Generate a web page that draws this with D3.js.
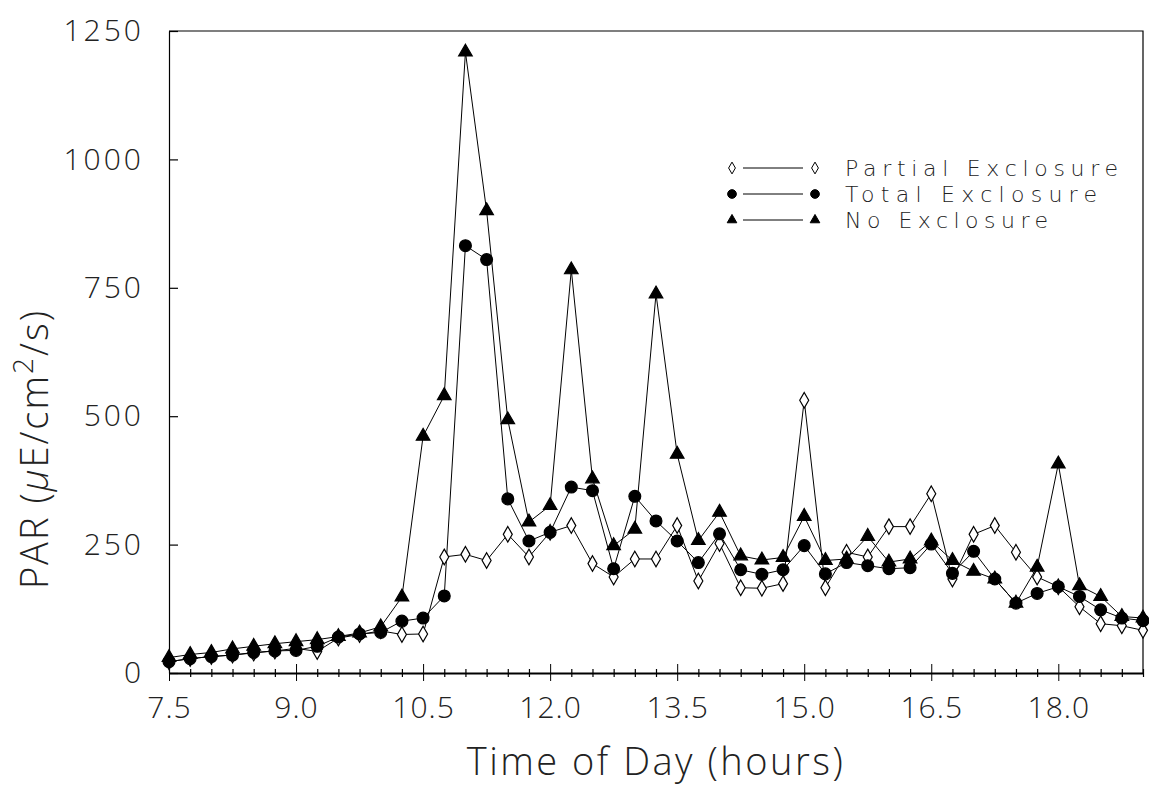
<!DOCTYPE html>
<html>
<head>
<meta charset="utf-8">
<script src="https://cdnjs.cloudflare.com/ajax/libs/d3/7.8.5/d3.min.js"></script>
<style>
  body { margin: 0; background: #fff; }
  svg text { font-family: "Open Sans", "DejaVu Sans", sans-serif; font-weight: 300; fill: #222; }
  .axis path, .axis line { stroke: #000; }
</style>
</head>
<body>
<svg class="js-chart"></svg>
<script>
// sample times (hours), every quarter hour
const hours = [7.5, 7.75, 8.0, 8.25, 8.5, 8.75, 9.0, 9.25, 9.5, 9.75,
  10.0, 10.25, 10.5, 10.75, 11.0, 11.25, 11.5, 11.75, 12.0, 12.25,
  12.5, 12.75, 13.0, 13.25, 13.5, 13.75, 14.0, 14.25, 14.5, 14.75,
  15.0, 15.25, 15.5, 15.75, 16.0, 16.25, 16.5, 16.75, 17.0, 17.25,
  17.5, 17.75, 18.0, 18.25, 18.5, 18.75, 19.0];

const partial = [22, 28, 32, 35, 39, 43, 48, 42, 68, 75,
  82, 75, 76, 226, 231, 219, 270, 226, 274, 287,
  213, 187, 222, 222, 287, 179, 252, 166, 165, 174,
  531, 166, 235, 226, 285, 285, 349, 183, 270, 287,
  235, 187, 168, 129, 96, 92, 83];

const total = [22, 28, 32, 35, 40, 43, 44, 52, 70, 76,
  79, 101, 107, 150, 832, 805, 339, 257, 274, 362,
  355, 203, 344, 296, 257, 215, 271, 201, 192, 201,
  248, 193, 215, 209, 203, 205, 251, 194, 237, 183,
  136, 155, 168, 149, 123, 107, 102];

const noExcl = [30, 36, 40, 47, 52, 57, 61, 65, 71, 78,
  90, 148, 461, 540, 1209, 900, 493, 294, 326, 785,
  378, 248, 280, 738, 426, 258, 313, 228, 220, 225,
  305, 219, 222, 266, 216, 222, 257, 219, 198, 183,
  136, 206, 407, 170, 149, 110, 107];

const xMajor = [7.5, 9.0, 10.5, 12.0, 13.5, 15.0, 16.5, 18.0];
const yTicks = [0, 250, 500, 750, 1000, 1250];
const seriesNames = ['Partial Exclosure', 'Total  Exclosure', 'No Exclosure'];

const svgWidth = 1149;
const svgHeight = 789;
const margin = {top: 31, right: 6, bottom: 116, left: 169};
const width = svgWidth - margin.left - margin.right;
const height = svgHeight - margin.top - margin.bottom;

const x = d3.scaleLinear().domain([7.5, 19.0]).range([0, width]);
const y = d3.scaleLinear().domain([0, 1250]).range([height, 0]);

const svg = d3.select('.js-chart')
  .attr('width', svgWidth)
  .attr('height', svgHeight)
  .append('g')
  .attr('transform', `translate(${margin.left},${margin.top})`);

// frame: top and right edges
svg.append('path')
  .attr('d', `M0,0H${width}V${height}`)
  .attr('fill', 'none')
  .attr('stroke', '#000')
  .attr('stroke-width', 1.2);

// x axis: minor ticks every 0.25 h, majors every 1.5 h
const minorTicks = hours.filter(h => !xMajor.includes(h));
const xMinor = svg.append('g')
  .attr('class', 'axis')
  .attr('transform', `translate(0,${height})`)
  .call(d3.axisBottom(x).tickValues(minorTicks).tickSize(4).tickFormat(''));
xMinor.selectAll('.tick line').attr('y1', -4).attr('stroke-width', 1.2);
xMinor.select('.domain').remove();

const xAxis = svg.append('g')
  .attr('class', 'axis')
  .attr('transform', `translate(0,${height})`)
  .call(d3.axisBottom(x).tickValues(xMajor).tickSize(8).tickSizeOuter(0).tickPadding(16)
    .tickFormat(d3.format('.1f')));
xAxis.select('.domain').attr('stroke-width', 2);
xAxis.selectAll('.tick line').attr('y1', -9).attr('stroke-width', 1);
xAxis.selectAll('.tick text')
  .style('font-size', '30px')
  .style('letter-spacing', '1px')
  .attr('fill', '#222');

// y axis
const yAxis = svg.append('g')
  .attr('class', 'axis')
  .call(d3.axisLeft(y).tickValues(yTicks).tickSize(9).tickSizeOuter(0).tickPadding(16)
    .tickFormat(d3.format('d')));
yAxis.select('.domain').attr('stroke-width', 1.2);
yAxis.selectAll('.tick line').attr('x2', 9).attr('stroke-width', 1.2);
yAxis.selectAll('.tick text')
  .style('font-size', '30px')
  .style('letter-spacing', '3px')
  .attr('fill', '#222');

// axis titles
svg.append('text')
  .attr('x', width / 2)
  .attr('y', height + 102)
  .attr('text-anchor', 'middle')
  .style('font-size', '38px')
  .style('letter-spacing', '2.5px')
  .text('Time of Day (hours)');

const yTitle = svg.append('text')
  .attr('transform', `translate(${-121},${y(436)}) rotate(-90)`)
  .attr('text-anchor', 'middle')
  .style('font-size', '38px')
  .style('letter-spacing', '2px');
yTitle.append('tspan').text('PAR (');
yTitle.append('tspan').style('font-style', 'italic').text('μ');
yTitle.append('tspan').text('E/cm');
yTitle.append('tspan').attr('dy', -15).style('font-size', '28px').text('2');
yTitle.append('tspan').attr('dy', 15).text('/s)');

// symbols
const diamond = d3.symbol().type(d3.symbolDiamond).size(70);
const circle = d3.symbol().type(d3.symbolCircle).size(110);
const triangle = d3.symbol().type(d3.symbolTriangle).size(80);

const line = d3.line()
  .x((d, i) => x(hours[i]))
  .y(d => y(d));

const series = [
  {values: partial, sym: diamond, fill: '#fff'},
  {values: total, sym: circle, fill: '#000'},
  {values: noExcl, sym: triangle, fill: '#000'}
];

series.forEach(s => {
  svg.append('path')
    .attr('d', line(s.values))
    .attr('fill', 'none')
    .attr('stroke', '#000')
    .attr('stroke-width', 1);
});

series.forEach(s => {
  svg.selectAll(null)
    .data(s.values)
    .enter().append('path')
    .attr('d', s.sym)
    .attr('transform', (d, i) => `translate(${x(hours[i])},${y(d)})`)
    .attr('fill', s.fill)
    .attr('stroke', '#000')
    .attr('stroke-width', 1.2);
});

// legend
const legendSyms = [
  d3.symbol().type(d3.symbolDiamond).size(40),
  d3.symbol().type(d3.symbolCircle).size(60),
  d3.symbol().type(d3.symbolTriangle).size(40)
];
const legendWidths = [273, 252, 203];
const legend = svg.append('g')
  .attr('transform', `translate(${732 - margin.left},${168 - margin.top})`);

seriesNames.forEach((name, i) => {
  const row = legend.append('g').attr('transform', `translate(0,${i * 26})`);
  row.append('line')
    .attr('x1', 11).attr('x2', 71)
    .attr('stroke', '#000').attr('stroke-width', 1);
  [0, 83].forEach(dx => {
    row.append('path')
      .attr('d', legendSyms[i])
      .attr('transform', `translate(${dx},0)`)
      .attr('fill', i === 0 ? '#fff' : '#000')
      .attr('stroke', '#000')
      .attr('stroke-width', 1);
  });
  row.append('text')
    .attr('x', 113)
    .attr('y', 8)
    .attr('textLength', legendWidths[i])
    .attr('lengthAdjust', 'spacing')
    .style('font-family', '"DejaVu Sans", sans-serif')
    .style('font-weight', 200)
    .style('font-size', '22px')
    .text(name);
});
</script>
</body>
</html>
